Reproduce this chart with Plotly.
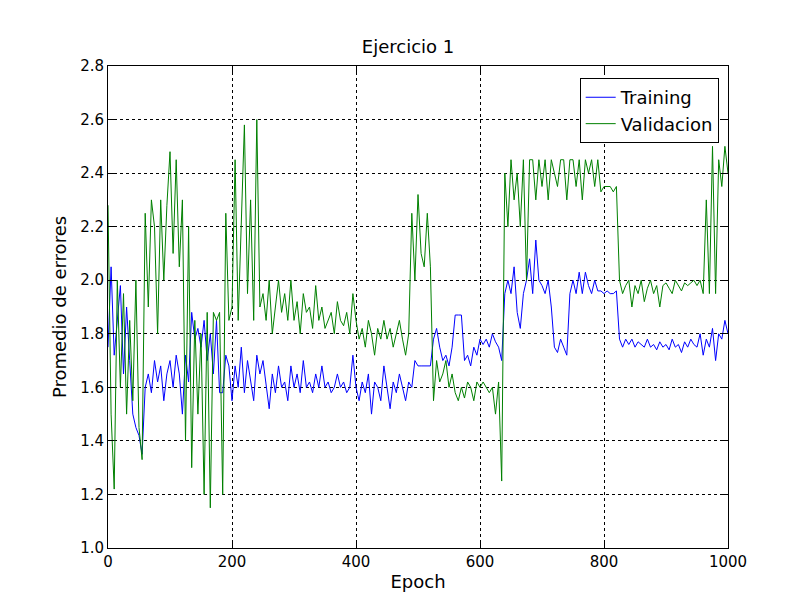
import numpy as np
import plotly.graph_objects as go

epochs = list(range(0, 1001, 5))

training = [
    1.75, 2.05, 1.72, 1.85, 1.98, 1.65, 1.9, 1.7, 1.5, 1.45,
    1.42, 1.35, 1.6, 1.65, 1.58, 1.7, 1.62, 1.68, 1.55, 1.65,
    1.7, 1.6, 1.72, 1.65, 1.5, 1.72, 1.62, 1.88, 1.78, 1.82,
    1.75, 1.85, 1.7, 1.8, 1.65, 1.85, 1.58, 1.58, 1.72, 1.68,
    1.55, 1.68, 1.6, 1.75, 1.58, 1.7, 1.62, 1.55, 1.72, 1.65,
    1.7, 1.6, 1.52, 1.65, 1.58, 1.68, 1.6, 1.62, 1.55, 1.68,
    1.6, 1.65, 1.58, 1.7, 1.6, 1.62, 1.58, 1.65, 1.6, 1.68,
    1.6, 1.62, 1.58, 1.6, 1.65, 1.6, 1.62, 1.58, 1.6, 1.72,
    1.6, 1.55, 1.62, 1.58, 1.65, 1.5, 1.62, 1.6, 1.55, 1.68,
    1.6, 1.52, 1.62, 1.58, 1.65, 1.6, 1.55, 1.62, 1.6, 1.7,
    1.68, 1.68, 1.68, 1.68, 1.68, 1.78, 1.82, 1.75, 1.7, 1.72,
    1.68, 1.75, 1.87, 1.87, 1.87, 1.7, 1.72, 1.68, 1.75, 1.72,
    1.78, 1.76, 1.78, 1.75, 1.8, 1.77, 1.75, 1.7, 1.95, 2.0,
    1.95, 2.05, 1.88, 1.82, 1.95, 2.0, 2.08, 1.95, 2.15, 2.0,
    1.98, 1.95, 2.0, 1.9, 1.75, 1.73, 1.78, 1.75, 1.72, 1.95,
    2.0, 1.95, 2.03, 1.95, 2.03, 1.98, 1.95, 2.0, 1.96, 1.96,
    1.95, 1.96, 1.95, 1.95, 1.96, 1.78, 1.75, 1.78, 1.76, 1.78,
    1.75, 1.77, 1.76, 1.75, 1.78, 1.75, 1.76, 1.74, 1.77, 1.75,
    1.76, 1.74, 1.78, 1.75, 1.76, 1.73, 1.77, 1.75, 1.78, 1.76,
    1.75, 1.8, 1.72, 1.78, 1.75, 1.82, 1.7, 1.8, 1.78, 1.85,
    1.8,
]

validacion = [
    2.28, 1.5, 1.22, 2.0, 1.6, 1.95, 1.5, 1.85, 1.55, 2.0,
    1.45, 1.33, 2.25, 1.9, 2.3, 2.2, 1.8, 2.3, 2.0, 2.28,
    2.48, 2.1, 2.45, 2.05, 2.3, 1.4, 2.2, 1.3, 1.85, 1.5,
    1.8, 1.2, 1.88, 1.15, 1.88, 1.85, 1.88, 1.2, 2.25, 1.85,
    1.9, 2.45, 1.85, 2.2, 2.58, 1.95, 2.3, 1.85, 2.6, 1.9,
    1.95, 1.85, 2.0, 1.8, 1.9, 2.0, 1.88, 1.95, 1.85, 2.0,
    1.85, 1.92, 1.8, 1.95, 1.88, 1.9, 1.82, 1.98, 1.85, 1.9,
    1.82, 1.85, 1.88, 1.8, 1.92, 1.85, 1.83, 1.88, 1.8, 1.95,
    1.85, 1.78, 1.82, 1.75, 1.85, 1.8, 1.72, 1.82, 1.78, 1.85,
    1.78, 1.82, 1.75, 1.8, 1.85, 1.78, 1.72, 1.8, 2.25, 2.0,
    2.32, 2.1, 2.05, 2.25, 2.05, 1.55, 1.7, 1.62, 1.65, 1.7,
    1.6, 1.65, 1.58, 1.55, 1.6, 1.56, 1.62, 1.6, 1.55, 1.62,
    1.6, 1.62, 1.6, 1.58, 1.6, 1.5, 1.62, 1.25, 2.4, 2.2,
    2.45, 2.3, 2.4, 2.2, 2.45, 2.0, 2.45, 2.45, 2.3, 2.45,
    2.35, 2.45, 2.3, 2.45, 2.4, 2.35, 2.45, 2.45, 2.3, 2.45,
    2.45, 2.35, 2.45, 2.3, 2.45, 2.4, 2.45, 2.35, 2.45, 2.33,
    2.35, 2.35, 2.35, 2.33, 2.35, 2.0, 1.95, 1.98, 2.0, 1.9,
    1.98, 1.95, 2.0, 1.92, 1.97, 2.0, 1.95, 1.98, 1.9, 1.98,
    1.99, 1.97, 1.95, 2.0, 1.98, 1.96, 1.99, 1.98, 1.99, 2.0,
    1.98, 2.0, 1.95, 2.3, 1.95, 2.5, 1.95, 2.45, 2.35, 2.5,
    2.4,
]

fig = go.Figure()
fig.add_trace(go.Scatter(x=epochs, y=training, mode="lines", name="Training",
                         line=dict(color="#0000ff", width=1)))
fig.add_trace(go.Scatter(x=epochs, y=validacion, mode="lines", name="Validacion",
                         line=dict(color="#008000", width=1)))

axis = dict(showline=True, linecolor="black", linewidth=1, mirror="ticks",
            ticks="inside", ticklen=6, tickcolor="black", automargin=False,
            showgrid=True, gridcolor="black", griddash="dot", gridwidth=0.5,
            zeroline=False)

fig.update_layout(
    width=800, height=600,
    paper_bgcolor="white", plot_bgcolor="white",
    font=dict(family="DejaVu Sans", size=15, color="black"),
    title=dict(text="Ejercicio 1", x=0.5, xanchor="center", y=0.935, yanchor="middle",
               font=dict(size=18)),
    margin=dict(l=100, r=80, t=58, b=60, autoexpand=False),
    showlegend=True,
    legend=dict(x=0.985, y=0.975, xanchor="right", yanchor="top",
                bordercolor="black", borderwidth=1, bgcolor="white",
                font=dict(size=18)),
    xaxis=dict(axis, range=[0, 1000], dtick=200, title=dict(text="Epoch", standoff=5)),
    yaxis=dict(axis, range=[1.0, 2.8], dtick=0.2, tickformat=".1f",
               title=dict(text="Promedio de errores", standoff=8)),
)

fig.write_html("out.html")
